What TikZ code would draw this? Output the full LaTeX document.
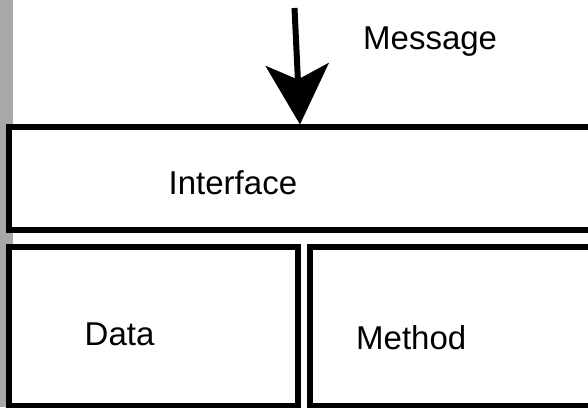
\documentclass[tikz,border=0pt]{standalone}
\usepackage{fontspec}
\setmainfont{Liberation Sans}
\usetikzlibrary{arrows.meta,positioning}
\definecolor{stripgray}{RGB}{168,168,168}
\tikzset{
  box/.style={draw,fill=white,line width=6pt,inner sep=0pt},
  lbl/.style={anchor=base west,inner sep=0pt,font=\fontsize{33}{39}\selectfont},
  msgarrow/.style={line width=6pt,-{Stealth[length=60pt,width=63pt,inset=15pt]}}
}

\begin{document}
\begin{tikzpicture}[x=1pt,y=1pt]
  \useasboundingbox (0,0) rectangle (588,407);
  \fill[stripgray] (0,0) rectangle (13,407);
  \node[box,minimum width=591pt,minimum height=103pt] (iface) at (304.5,228) {};
  \node[box,minimum width=289pt,minimum height=159pt] (data) at (153.5,80.5) {};
  \node[box,minimum width=290pt,minimum height=159pt] (method) at (455,80.5) {};
  \node[lbl] (msg) at (363,357.7) {Message};
  \node[lbl] (iface_t) at (168.5,212) {Interface};
  \node[lbl] (data_t) at (84.5,61.3) {Data};
  \node[lbl] (method_t) at (356,57.7) {Method};
  \coordinate (src) at (294.5,399);
  \draw[msgarrow] (src) -- ([xshift=-4.5pt]iface.north);
\end{tikzpicture}
\end{document}
